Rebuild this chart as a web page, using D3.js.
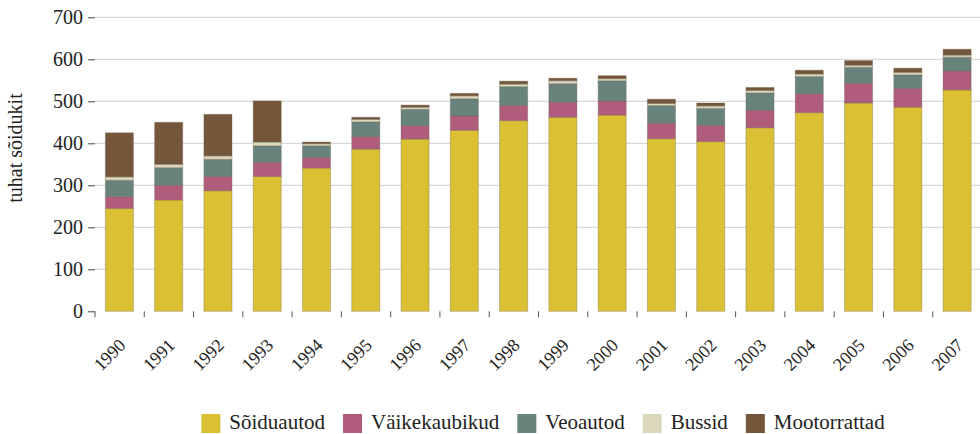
<!DOCTYPE html>
<html><head><meta charset="utf-8">
<script src="https://cdn.jsdelivr.net/npm/d3@7/dist/d3.min.js"></script>
<style>
html,body{margin:0;padding:0;background:#fff;}
svg text{font-family:"Liberation Serif","Times New Roman",serif;fill:#222;}
</style></head>
<body><svg id="c" width="980" height="434"></svg>
<script>
const years = ["1990","1991","1992","1993","1994","1995","1996","1997","1998","1999","2000","2001","2002","2003","2004","2005","2006","2007"];
const seriesNames = ["Sõiduautod","Väikekaubikud","Veoautod","Bussid","Mootorrattad"];
const colors = ["#dcc034","#b05c7c","#67837b","#dbd7bd","#74573b"];
const soiduautod    = [245,265,287,321,341,386,410,431,454,462,467,411,404,437,473,496,486,527];
const vaikekaubikud = [28,35,34,34,25,30,32,34,36,36,34,37,39,42,45,47,45,45];
const veoautod      = [39,42,41,39,28,35,39,41,45,44,48,42,40,41,41,38,32,33];
const bussid        = [8,8,8,9,5,6,5,7,6,7,5,5,6,6,6,5,6,5];
const mootorrattad  = [105,100,99,98,4,5,5,6,7,6,7,10,7,7,9,11,10,14];
const yTicks = [0,100,200,300,400,500,600,700];
const yLabel = "tuhat sõidukit";

const svg = d3.select("#c");
const x = d3.scaleBand().domain(years).range([95, 982]).padding(0);
const y = d3.scaleLinear().domain([0, 700]).range([311.3, 17.3]);

const rows = years.map((yr, i) => ({year: yr, s0: soiduautod[i], s1: vaikekaubikud[i], s2: veoautod[i], s3: bussid[i], s4: mootorrattad[i]}));
const stack = d3.stack().keys(["s0","s1","s2","s3","s4"])(rows);

// grid
svg.append("g").selectAll("line").data(yTicks.filter(d => d > 0)).join("line")
  .attr("x1", 95).attr("x2", 980).attr("y1", d => y(d)).attr("y2", d => y(d))
  .attr("stroke", "#cfcfcf").attr("stroke-width", 1);

// y axis
const yAxis = svg.append("g").attr("transform", "translate(95,0)")
  .call(d3.axisLeft(y).tickValues(yTicks).tickSize(7).tickPadding(5));
yAxis.select(".domain").remove();
yAxis.selectAll("line").attr("stroke", "#444");
yAxis.selectAll("text").attr("font-size", 20).attr("font-family", "Liberation Serif").attr("fill", "#222");

// x axis ticks at band boundaries
const xAxis = svg.append("g").attr("transform", "translate(0,311.3)");
xAxis.selectAll("line").data(years).join("line")
  .attr("x1", d => x(d)).attr("x2", d => x(d)).attr("y1", 0).attr("y2", 6)
  .attr("stroke", "#555").attr("stroke-width", 1);
xAxis.selectAll("text").data(years).join("text")
  .attr("transform", d => `translate(${x(d) + x.bandwidth()/2 + 7},35) rotate(-45)`)
  .attr("text-anchor", "end").attr("font-size", 18).text(d => d);

// bars
const bw = x.bandwidth();
svg.append("g").selectAll("g").data(stack).join("g")
  .attr("fill", (d, i) => colors[i])
  .selectAll("rect").data(d => d).join("rect")
  .attr("x", d => x(d.data.year) + bw * 0.21)
  .attr("width", bw * 0.57)
  .attr("y", d => y(d[1]))
  .attr("height", d => y(d[0]) - y(d[1]))
  .attr("stroke", "rgba(110,100,80,0.35)").attr("stroke-width", 1);

// y label
svg.append("text").attr("transform", "translate(22,148) rotate(-90)")
  .attr("text-anchor", "middle").attr("font-size", 20).text(yLabel);

// legend
const lg = svg.append("g");
const items = lg.selectAll("g").data(seriesNames).join("g");
items.append("rect").attr("width", 19).attr("height", 19).attr("y", 414).attr("fill", (d, i) => colors[i]);
items.append("text").attr("x", 28).attr("y", 429).attr("font-size", 21).text(d => d);
let cx = 0;
const pos = [];
items.each(function(d) {
  const w = d3.select(this).select("text").node().getComputedTextLength();
  pos.push(cx);
  cx += 28 + w + 18;
});
const total = cx - 18;
const start = 543 - total / 2;
items.attr("transform", (d, i) => `translate(${start + pos[i]},0)`);
</script></body></html>
